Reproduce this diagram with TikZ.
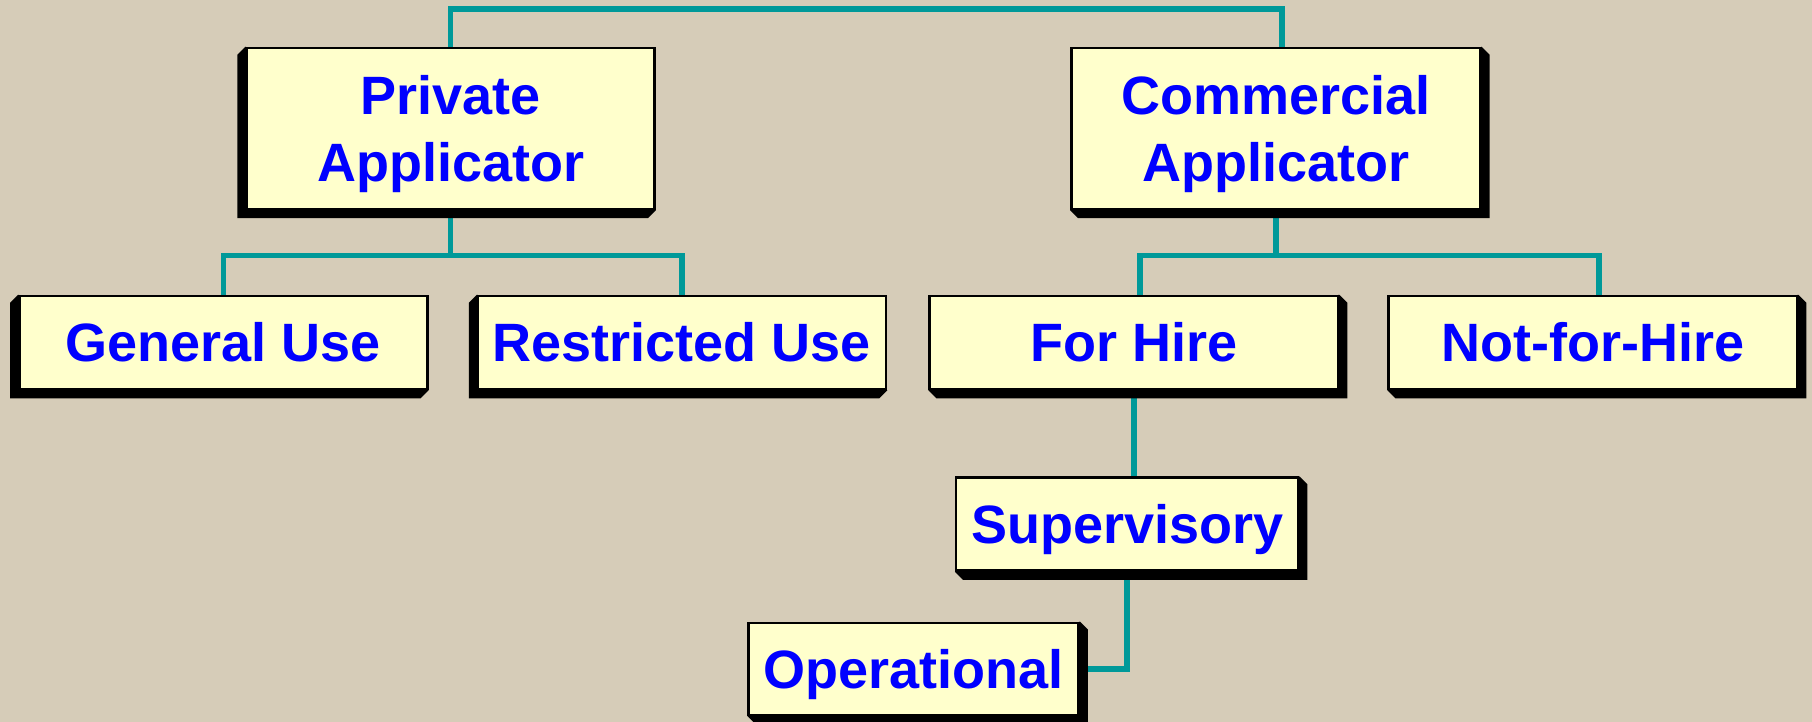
\documentclass[tikz,border=0pt]{standalone}
\usepackage{fontspec}
\setmainfont{Liberation Sans}
\usetikzlibrary{calc}
\definecolor{bgc}{RGB}{214,204,184}
\definecolor{boxfill}{RGB}{255,255,204}
\definecolor{connc}{RGB}{0,153,153}
\definecolor{txtblue}{RGB}{0,0,255}
\pgfdeclarelayer{bgl}
\pgfdeclarelayer{connl}
\pgfdeclarelayer{shadl}
\pgfsetlayers{bgl,connl,shadl,main}
\tikzset{
  box/.style={draw=black, line width=2.5pt, fill=boxfill, inner sep=0pt,
    text=txtblue, font=\bfseries\fontsize{54}{66.7}\selectfont, align=center},
  twobox/.style={box, text depth=0pt},
  onebox/.style={box, text height=38.5pt, text depth=0pt},
  conn/.style={draw=connc, line width=5.5pt},
  extr/.style={fill=black},
}
\newcommand\extL[1]{\fill[extr] (#1.north west) -- ++(-8,8) |- ($(#1.south east)+(-8,8)$) -- (#1.south east) -- cycle;}
\newcommand\extR[1]{\fill[extr] (#1.north east) -- ++(8,8) |- ($(#1.south west)+(8,8)$) -- (#1.south west) -- cycle;}
\begin{document}
\begin{tikzpicture}[x=1pt,y=-1pt]
\begin{pgfonlayer}{bgl}
\fill[bgc] (0,0) rectangle (1812,722);
\end{pgfonlayer}
\useasboundingbox (0,0) rectangle (1812,722);

% boxes
\node[twobox, minimum width=408pt, minimum height=161pt] (pa) at (450.7,128.5) {Private\\Applicator};
\node[twobox, minimum width=409pt, minimum height=161pt] (ca) at (1275.9,128.5) {Commercial\\Applicator};
\node[onebox, minimum width=408pt, minimum height=93pt] (gu) at (223.3,342.5) {General Use};
\node[onebox, minimum width=408pt, minimum height=93pt] (ru) at (682,342.5) {Restricted Use};
\node[onebox, minimum width=408.5pt, minimum height=93pt] (fh) at (1133.8,342.5) {For Hire};
\node[onebox, minimum width=408.5pt, minimum height=93pt] (nh) at (1592.8,342.5) {Not-for-Hire};
\node[onebox, minimum width=342pt, minimum height=93pt] (sv) at (1127.2,524.2) {Supervisory};
\node[onebox, minimum width=330pt, minimum height=92pt] (op) at (913.7,668.9) {Operational};

% extrusions
\begin{pgfonlayer}{shadl}
\extL{pa}\extL{gu}\extL{ru}
\extR{ca}\extR{fh}\extR{nh}\extR{sv}\extR{op}
\end{pgfonlayer}

% connectors
\begin{pgfonlayer}{connl}
\coordinate (topbar) at (866,9);
\draw[conn] (pa.north) |- (topbar) -| ([xshift=6pt]ca.north);
\draw[conn] (pa.south) -- ++(0,45) coordinate (pbar);
\draw[conn] (gu.north) |- (pbar) -| (ru.north);
\draw[conn] (ca.south) -- ++(0,45) coordinate (cbar);
\draw[conn] ([xshift=6pt]fh.north) |- (cbar) -| ([xshift=6pt]nh.north);
\draw[conn] (fh.south) -- (fh.south |- sv.north);
\draw[conn] (sv.south) |- (op.east);
\end{pgfonlayer}
\end{tikzpicture}
\end{document}
